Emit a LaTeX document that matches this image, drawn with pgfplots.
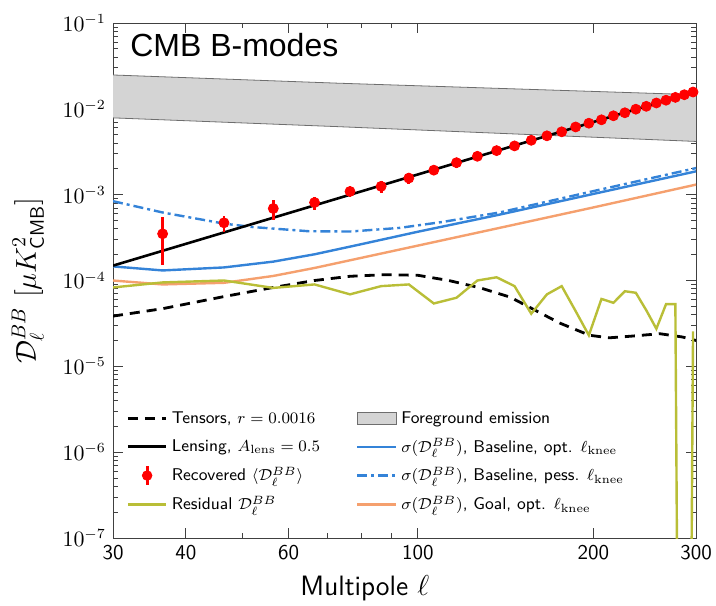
\documentclass[border=0pt]{standalone}
\usepackage{pgfplots}
\pgfplotsset{compat=1.18}
\usepackage{amsmath}
\usepackage{fontspec}
\newfontfamily\arialfont{Liberation Sans}

\definecolor{cblue}{RGB}{52,131,216}
\definecolor{corange}{RGB}{245,160,110}
\definecolor{colive}{RGB}{185,190,55}
\definecolor{fgfill}{RGB}{212,212,212}
\definecolor{fgedge}{RGB}{110,110,110}

\pgfplotsset{
  longline/.style={legend image code/.code={\draw[##1] (0cm,0cm) -- (0.68cm,0cm);}},
  longbox/.style={legend image code/.code={\draw[##1] (0cm,-0.1cm) rectangle (0.68cm,0.12cm);}},
  errdot/.style={legend image code/.code={
    \draw[red, line width=1.4pt] (0.34cm,-0.16cm) -- (0.34cm,0.16cm);
    \fill[red] (0.34cm,0cm) circle (2.4pt);}},
}

\begin{document}
\begin{tikzpicture}
\begin{axis}[
  at={(0pt,0pt)}, anchor=south west,
  xmode=log, ymode=log,
  width=291.5pt, height=257.5pt, scale only axis,
  xmin=30, xmax=300, ymin=1e-7, ymax=1e-1,
  xtick={30,40,60,100,200,300}, xticklabels={30,40,60,100,200,300},
  minor xtick={50,70,80,90},
  ytick={1e-7,1e-6,1e-5,1e-4,1e-3,1e-2,1e-1},
  ticklabel style={font=\sffamily\fontsize{10.5}{12}\selectfont},
  axis line style={gray!50!black},
  every tick/.style={gray!50!black},
  major tick length=5pt, minor tick length=2.5pt,
  xlabel={Multipole $\ell$},
  xlabel style={font=\sffamily\fontsize{14}{16}\selectfont, at={(axis description cs:0.432,0)}, anchor=base, yshift=-28.5pt},
  ylabel={$\mathcal{D}_\ell^{BB}\ [\mu K^2_{\mathsf{CMB}}]$},
  ylabel style={font=\fontsize{14}{16}\selectfont, at={(axis description cs:-0.146,0.5)}, anchor=center},
  legend columns=2,
  legend cell align=left,
  legend style={draw=none, fill=none, at={(axis description cs:0.012,0.262)}, anchor=north west,
    font=\sffamily\fontsize{8.5}{10}\selectfont, row sep=2pt,
    /tikz/every even column/.append style={column sep=16pt}},
]
% legend, row by row
\addlegendimage{longline, black, line width=1.4pt, dash pattern=on 5pt off 3.5pt}
\addlegendentry{Tensors, $r = 0.0016$}
\addlegendimage{longbox, fill=fgfill, draw=fgedge}
\addlegendentry{Foreground emission}
\addlegendimage{longline, black, line width=1.3pt}
\addlegendentry{Lensing, $A_{\mathrm{lens}} = 0.5$}
\addlegendimage{longline, cblue, line width=1.2pt}
\addlegendentry{$\sigma(\mathcal{D}_\ell^{BB})$, Baseline, opt. $\ell_{\mathrm{knee}}$}
\addlegendimage{errdot}
\addlegendentry{Recovered $\langle\mathcal{D}_\ell^{BB}\rangle$}
\addlegendimage{longline, cblue, line width=1.2pt, dash pattern=on 5pt off 2pt on 1.5pt off 2pt}
\addlegendentry{$\sigma(\mathcal{D}_\ell^{BB})$, Baseline, pess. $\ell_{\mathrm{knee}}$}
\addlegendimage{longline, colive, line width=1.2pt}
\addlegendentry{Residual $\mathcal{D}_\ell^{BB}$}
\addlegendimage{longline, corange, line width=1.2pt}
\addlegendentry{$\sigma(\mathcal{D}_\ell^{BB})$, Goal, opt. $\ell_{\mathrm{knee}}$}

% foreground band
\addplot[fill=fgfill, draw=none, forget plot] coordinates {
  (30,0.0248) (73,0.0199) (300,0.0146)
  (300,0.00417) (73,0.0062) (30,0.00785)};
\addplot[fgedge, thin, forget plot] coordinates {(30,0.0248) (73,0.0199) (300,0.0146)};
\addplot[fgedge, thin, forget plot] coordinates {(30,0.00785) (73,0.0062) (300,0.00417)};

% sigma curves
\addplot[corange, line width=1.2pt, forget plot] coordinates {
  (30,1.0e-4) (36.5,9.0e-5) (46.5,9.4e-5) (56.5,1.13e-4) (66.5,1.40e-4)
  (100,2.55e-4) (138,4.1e-4) (200,7.1e-4) (300,1.31e-3)};
\addplot[cblue, line width=1.2pt, forget plot] coordinates {
  (30,1.46e-4) (36.5,1.31e-4) (46.5,1.42e-4) (56.5,1.66e-4) (66.5,2.02e-4)
  (80,2.65e-4) (100,3.7e-4) (138,5.85e-4) (200,1.02e-3) (300,1.87e-3)};
\addplot[cblue, line width=1.2pt, dash pattern=on 5pt off 2pt on 1.5pt off 2pt, forget plot] coordinates {
  (30,8.4e-4) (36.5,6.2e-4) (46.5,4.6e-4) (52,4.2e-4) (65,3.75e-4) (76.5,3.72e-4)
  (93,4.1e-4) (110,4.8e-4) (138,6.2e-4) (200,1.10e-3) (300,2.04e-3)};

% tensors
\addplot[black, line width=1.4pt, dash pattern=on 5pt off 3.5pt, forget plot] coordinates {
  (30,3.85e-5) (36.5,4.7e-5) (46.5,6.5e-5) (56.5,8.3e-5) (66.5,1.0e-4) (76.5,1.12e-4)
  (88,1.17e-4) (100,1.15e-4) (113,1.0e-4) (128,8.2e-5) (144,6.4e-5) (158,4.6e-5)
  (175,3.2e-5) (197,2.3e-5) (213,2.15e-5) (233,2.25e-5) (260,2.4e-5) (284,2.2e-5) (300,2.0e-5)};

% residual
\addplot[colive, line width=1.2pt, forget plot] coordinates {
  (30,8.3e-5) (36.5,9.5e-5) (46.5,1.0e-4) (56.5,8.2e-5) (66.5,9.0e-5) (76.5,6.9e-5)
  (86.5,8.6e-5) (96.5,9.0e-5) (106.5,5.4e-5) (116.5,6.3e-5) (126.5,1.0e-4) (136.5,1.09e-4)
  (146.5,8.6e-5) (156.5,4.1e-5) (166.5,6.9e-5) (176.5,8.6e-5) (186.5,4.4e-5) (196.5,2.3e-5)
  (206.5,6.1e-5) (216.5,5.5e-5) (226.5,7.5e-5) (236.5,7.2e-5) (246.5,4.5e-5) (256.5,2.74e-5)
  (266.5,5.3e-5) (276.5,5.3e-5) (286.5,1e-20) (296.5,2.55e-5)};

% lensing
\addplot[black, line width=1.3pt, forget plot] coordinates {
  (30,1.49e-4) (100,1.72e-3) (300,1.60e-2)};

% recovered
\addplot[red, only marks, mark=*, mark size=2.5pt, forget plot,
  error bars/.cd, y dir=both, y explicit, error mark=none,
  error bar style={red, line width=1.4pt}] coordinates {
  (36.5,3.5e-4) +- (0,2.0e-4)
  (46.5,4.7e-4) +- (0,1.0e-4)
  (56.5,6.9e-4) +- (0,1.8e-4)
  (66.5,8.1e-4) +- (0,1.4e-4)
  (76.5,1.09e-3) +- (0,1.6e-4)
  (86.5,1.25e-3) +- (0,2.0e-4)
  (96.5,1.56e-3) +- (0,2.4e-4)
  (106.5,1.93e-3) +- (0,2.2e-4)
  (116.5,2.36e-3) +- (0,3.0e-4)
  (126.5,2.80e-3) +- (0,3.2e-4)
  (136.5,3.26e-3) +- (0,3.3e-4)
  (146.5,3.70e-3) +- (0,3.5e-4)
  (156.5,4.30e-3) +- (0,4.0e-4)
  (166.5,4.85e-3) +- (0,4.6e-4)
  (176.5,5.40e-3) +- (0,5.5e-4)
  (186.5,6.15e-3) +- (0,5.5e-4)
  (196.5,6.80e-3) +- (0,6.0e-4)
  (206.5,7.45e-3) +- (0,6.5e-4)
  (216.5,8.30e-3) +- (0,8.0e-4)
  (226.5,9.00e-3) +- (0,7.5e-4)
  (236.5,9.90e-3) +- (0,8.0e-4)
  (246.5,1.07e-2) +- (0,9.0e-4)
  (256.5,1.17e-2) +- (0,9.5e-4)
  (266.5,1.26e-2) +- (0,1.0e-3)
  (276.5,1.36e-2) +- (0,1.1e-3)
  (286.5,1.46e-2) +- (0,1.2e-3)
  (296.5,1.57e-2) +- (0,1.2e-3)};

\node[anchor=north west, inner sep=0pt, font=\arialfont\fontsize{16}{18}\selectfont]
  at (axis description cs:0.029,0.98) {CMB B-modes};
\end{axis}
\pgfresetboundingbox
\path[use as bounding box] (-56.5pt,-33.5pt) rectangle (301.5pt,269pt);
\end{tikzpicture}
\end{document}
